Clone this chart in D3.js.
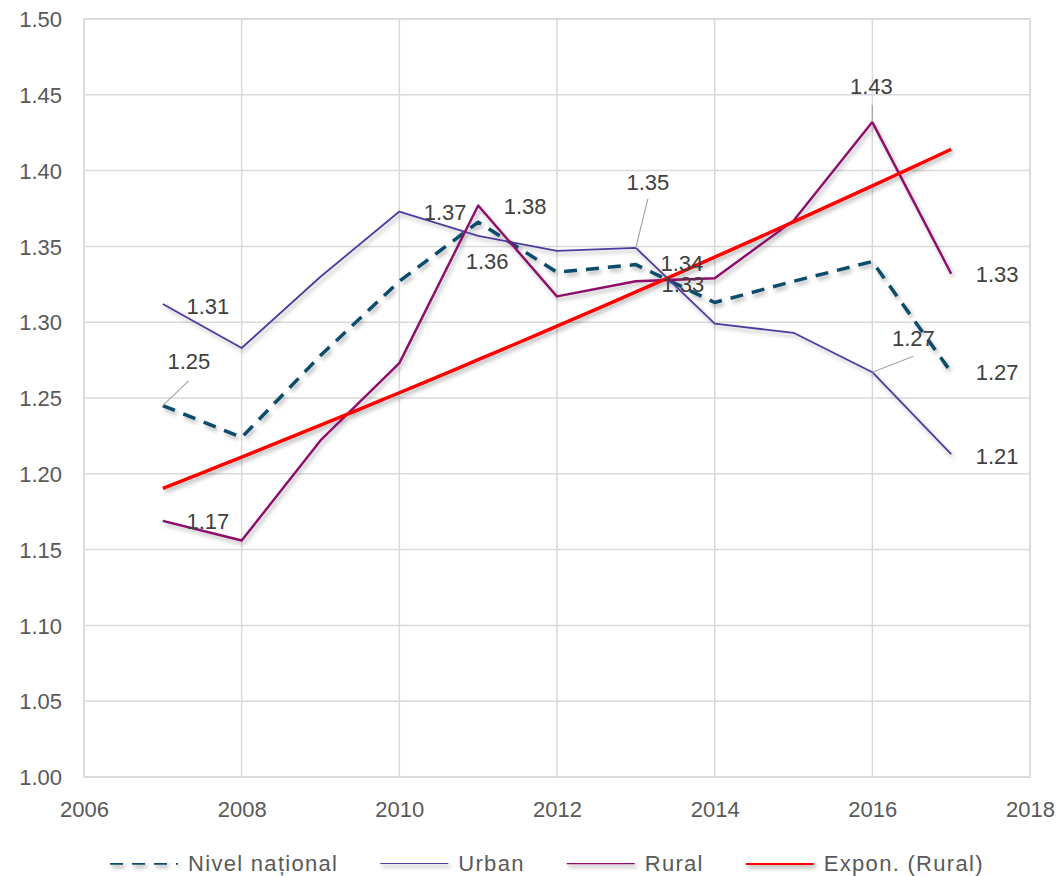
<!DOCTYPE html>
<html>
<head>
<meta charset="utf-8">
<script src="https://cdn.jsdelivr.net/npm/d3@7"></script>
<style>
  body { margin: 0; background: #fff; }
  svg { display: block; font-family: "Liberation Sans", Arial, sans-serif; }
</style>
</head>
<body>
<div id="chart"></div>
<script>
// date
var years = [2007, 2008, 2009, 2010, 2011, 2012, 2013, 2014, 2015, 2016, 2017];
var national = [1.245, 1.224, 1.278, 1.327, 1.366, 1.333, 1.338, 1.313, 1.327, 1.340, 1.267];
var urban = [1.312, 1.283, 1.330, 1.373, 1.357, 1.347, 1.349, 1.299, 1.293, 1.267, 1.213];
var rural = [1.169, 1.156, 1.222, 1.273, 1.377, 1.317, 1.327, 1.329, 1.367, 1.432, 1.332];
var xTicks = [2006, 2008, 2010, 2012, 2014, 2016, 2018];
var yTicks = [1.00, 1.05, 1.10, 1.15, 1.20, 1.25, 1.30, 1.35, 1.40, 1.45, 1.50];
var legendNames = ['Nivel național', 'Urban', 'Rural', 'Expon. (Rural)'];

var width = 1058, height = 876;
var margin = { top: 19, right: 28, bottom: 99, left: 84 };

var x = d3.scaleLinear().domain([2006, 2018]).range([margin.left, width - margin.right]);
var y = d3.scaleLinear().domain([1.0, 1.5]).range([height - margin.bottom, margin.top]);

var svg = d3.select('#chart').append('svg')
  .attr('width', width)
  .attr('height', height);

var defs = svg.append('defs');
defs.append('filter')
  .attr('id', 'shadow')
  .attr('filterUnits', 'userSpaceOnUse')
  .attr('x', 0).attr('y', 0)
  .attr('width', width).attr('height', height)
  .append('feDropShadow')
  .attr('dx', 2).attr('dy', 3)
  .attr('stdDeviation', 2)
  .attr('flood-color', '#000')
  .attr('flood-opacity', 0.3);

// grila
var grid = svg.append('g').attr('class', 'grid');
grid.selectAll('line.h')
  .data(yTicks)
  .enter()
  .append('line')
  .attr('class', 'h')
  .attr('x1', x(2006)).attr('x2', x(2018))
  .attr('y1', function (d) { return y(d); })
  .attr('y2', function (d) { return y(d); })
  .attr('stroke', '#d9d9d9')
  .attr('stroke-width', 1.5);
grid.selectAll('line.v')
  .data(xTicks)
  .enter()
  .append('line')
  .attr('class', 'v')
  .attr('y1', y(1.0)).attr('y2', y(1.5))
  .attr('x1', function (d) { return x(d); })
  .attr('x2', function (d) { return x(d); })
  .attr('stroke', '#d9d9d9')
  .attr('stroke-width', 1.5);

// axe
var yAxis = svg.append('g')
  .attr('transform', 'translate(' + (margin.left - 22) + ',0)')
  .call(d3.axisLeft(y).tickValues(yTicks).tickSize(0).tickFormat(d3.format('.2f')));
var xAxis = svg.append('g')
  .attr('transform', 'translate(0,' + (y(1.0) + 22) + ')')
  .call(d3.axisBottom(x).tickValues(xTicks).tickSize(0).tickFormat(d3.format('d')));
[yAxis, xAxis].forEach(function (ax) {
  ax.select('.domain').remove();
  ax.selectAll('text')
    .attr('fill', '#595959')
    .attr('font-size', 22)
    .attr('font-family', '"Liberation Sans", Arial, sans-serif');
});
yAxis.selectAll('text').attr('x', 0).attr('dy', '0.35em');
xAxis.selectAll('text').attr('dy', '0.7em');

// trend exponential (Excel): ln(y) = a + b*x
function expFit(xs, ys) {
  var lx = xs.map(function (d) { return d - xs[0]; });
  var ly = ys.map(function (d) { return Math.log(d); });
  var mx = d3.mean(lx), my = d3.mean(ly);
  var num = d3.sum(lx, function (d, i) { return (d - mx) * (ly[i] - my); });
  var den = d3.sum(lx, function (d) { return (d - mx) * (d - mx); });
  var b = num / den, a = my - b * mx;
  return function (t) { return Math.exp(a + b * (t - xs[0])); };
}
var trend = expFit(years, rural);
var trendPts = d3.range(years[0], years[years.length - 1] + 0.001, 0.25);

var series = [
  { name: 'national', values: national, color: '#0f4c6b', width: 3.5, dash: '13,9' },
  { name: 'urban', values: urban, color: '#4f3b9e', width: 1.8, dash: null },
  { name: 'rural', values: rural, color: '#8c0b6b', width: 2.4, dash: null }
];

var line = d3.line()
  .x(function (d, i) { return x(years[i]); })
  .y(function (d) { return y(d); });

var lines = svg.append('g').attr('filter', 'url(#shadow)');
lines.selectAll('path.series')
  .data(series)
  .enter()
  .append('path')
  .attr('class', 'series')
  .attr('d', function (d) { return line(d.values); })
  .attr('fill', 'none')
  .attr('stroke', function (d) { return d.color; })
  .attr('stroke-width', function (d) { return d.width; })
  .attr('stroke-dasharray', function (d) { return d.dash; })
  .attr('stroke-linejoin', 'round');

lines.append('path')
  .attr('d', d3.line()
    .x(function (d) { return x(d); })
    .y(function (d) { return y(trend(d)); })(trendPts))
  .attr('fill', 'none')
  .attr('stroke', '#ff0000')
  .attr('stroke-width', 3.5);

// etichete: index punct, deplasare text, capat linie ajutatoare
var labelSpec = {
  national: [[0, 26, -44, [26, -25]], [4, -33, -10], [6, 46, -1], [10, 46, 0]],
  urban: [[0, 45, 2], [4, 9, 26], [6, 12, -66, [12, -49]], [9, 41, -34, [41, -16]], [10, 46, 2]],
  rural: [[0, 45, 1], [4, 47, 1], [6, 47, 3], [9, -1, -36, [0, -17]], [10, 46, 1]]
};

var labels = svg.append('g');
series.forEach(function (s) {
  labelSpec[s.name].forEach(function (l) {
    var px = x(years[l[0]]), py = y(s.values[l[0]]);
    if (l[3]) {
      labels.append('line')
        .attr('x1', px).attr('y1', py)
        .attr('x2', px + l[3][0]).attr('y2', py + l[3][1])
        .attr('stroke', '#a6a6a6')
        .attr('stroke-width', 1.2);
    }
    labels.append('text')
      .attr('x', px + l[1])
      .attr('y', py + l[2])
      .attr('dy', '0.35em')
      .attr('text-anchor', 'middle')
      .attr('font-size', 22)
      .attr('fill', '#404040')
      .text(d3.format('.2f')(s.values[l[0]]));
  });
});

// legenda
var legendStyles = [
  { color: '#0f4c6b', width: 3.5, dash: '13,9' },
  { color: '#4f3b9e', width: 2, dash: null },
  { color: '#8c0b6b', width: 2.6, dash: null },
  { color: '#ff0000', width: 4, dash: null }
];
var legend = svg.append('g').attr('transform', 'translate(0,863)');
var lx = 110;
legendNames.forEach(function (name, i) {
  var st = legendStyles[i];
  legend.append('line')
    .attr('x1', lx).attr('x2', lx + 68)
    .attr('y1', 0).attr('y2', 0)
    .attr('stroke', st.color)
    .attr('stroke-width', st.width)
    .attr('stroke-dasharray', st.dash)
    .attr('filter', 'url(#shadow)');
  var t = legend.append('text')
    .attr('x', lx + 78)
    .attr('y', 0)
    .attr('dy', '0.35em')
    .attr('font-size', 22)
    .attr('letter-spacing', 1.3)
    .attr('fill', '#595959')
    .text(name);
  lx += 78 + t.node().getComputedTextLength() + 42;
});

// chenar
svg.append('rect')
  .attr('x', x(2006)).attr('y', y(1.5))
  .attr('width', x(2018) - x(2006))
  .attr('height', y(1.0) - y(1.5))
  .attr('fill', 'none')
  .attr('stroke', '#d9d9d9')
  .attr('stroke-width', 1.5);
</script>
</body>
</html>
